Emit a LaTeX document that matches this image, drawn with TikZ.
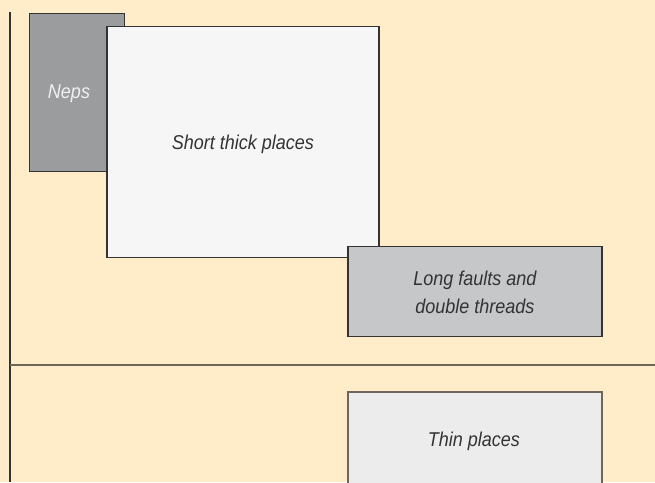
\documentclass[tikz,border=0pt]{standalone}
\usepackage{fontspec}
\setmainfont{Liberation Sans}[FakeStretch=0.9]
\definecolor{bg}{HTML}{FEEDC8}
\definecolor{neps}{HTML}{9B9C9E}
\definecolor{shortc}{HTML}{F6F6F6}
\definecolor{longc}{HTML}{C6C7C9}
\definecolor{thinc}{HTML}{ECECEC}
\definecolor{edge}{HTML}{333333}
\definecolor{edgeb}{HTML}{6E665A}
\definecolor{txt}{HTML}{333333}
\begin{document}
\begin{tikzpicture}[x=1pt,y=-1pt,
  box/.style={draw=edge,line width=1.6pt,rectangle,inner sep=0pt,anchor=north west},
  lbl/.style={font=\fontsize{20}{28}\selectfont\itshape,text=txt,align=center},
  rule/.style={line width=1.4pt}]
\useasboundingbox (0,0) rectangle (655,482);
\fill[bg] (0,0) rectangle (655,482);
\clip (0,0) rectangle (655,482);
\draw[rule,draw=edge] (10,12) -- (10,482);
\draw[rule,draw=edgeb] (10,365) -- (655,365);
\node[box,fill=neps,minimum width=95pt,minimum height=158pt] (neps) at (28.5,12.5) {};
\node[lbl,text=white!94!black] (nepst) at (69,94) {Neps};
\node[box,fill=shortc,minimum width=272pt,minimum height=231pt] (short) at (106,25.5) {};
\node[lbl] (shortt) at ([yshift=-3pt]short.center) {Short thick places};
\node[box,fill=longc,minimum width=254pt,minimum height=90pt] (long) at (347,245.5) {};
\node[lbl] (longt) at ([yshift=-1pt]long.center) {Long faults and\\double threads};
\node[box,draw=edgeb,fill=thinc,minimum width=254pt,minimum height=100pt] (thin) at (347,391) {};
\node[lbl] (thint) at (474,441) {Thin places};
\end{tikzpicture}
\end{document}
